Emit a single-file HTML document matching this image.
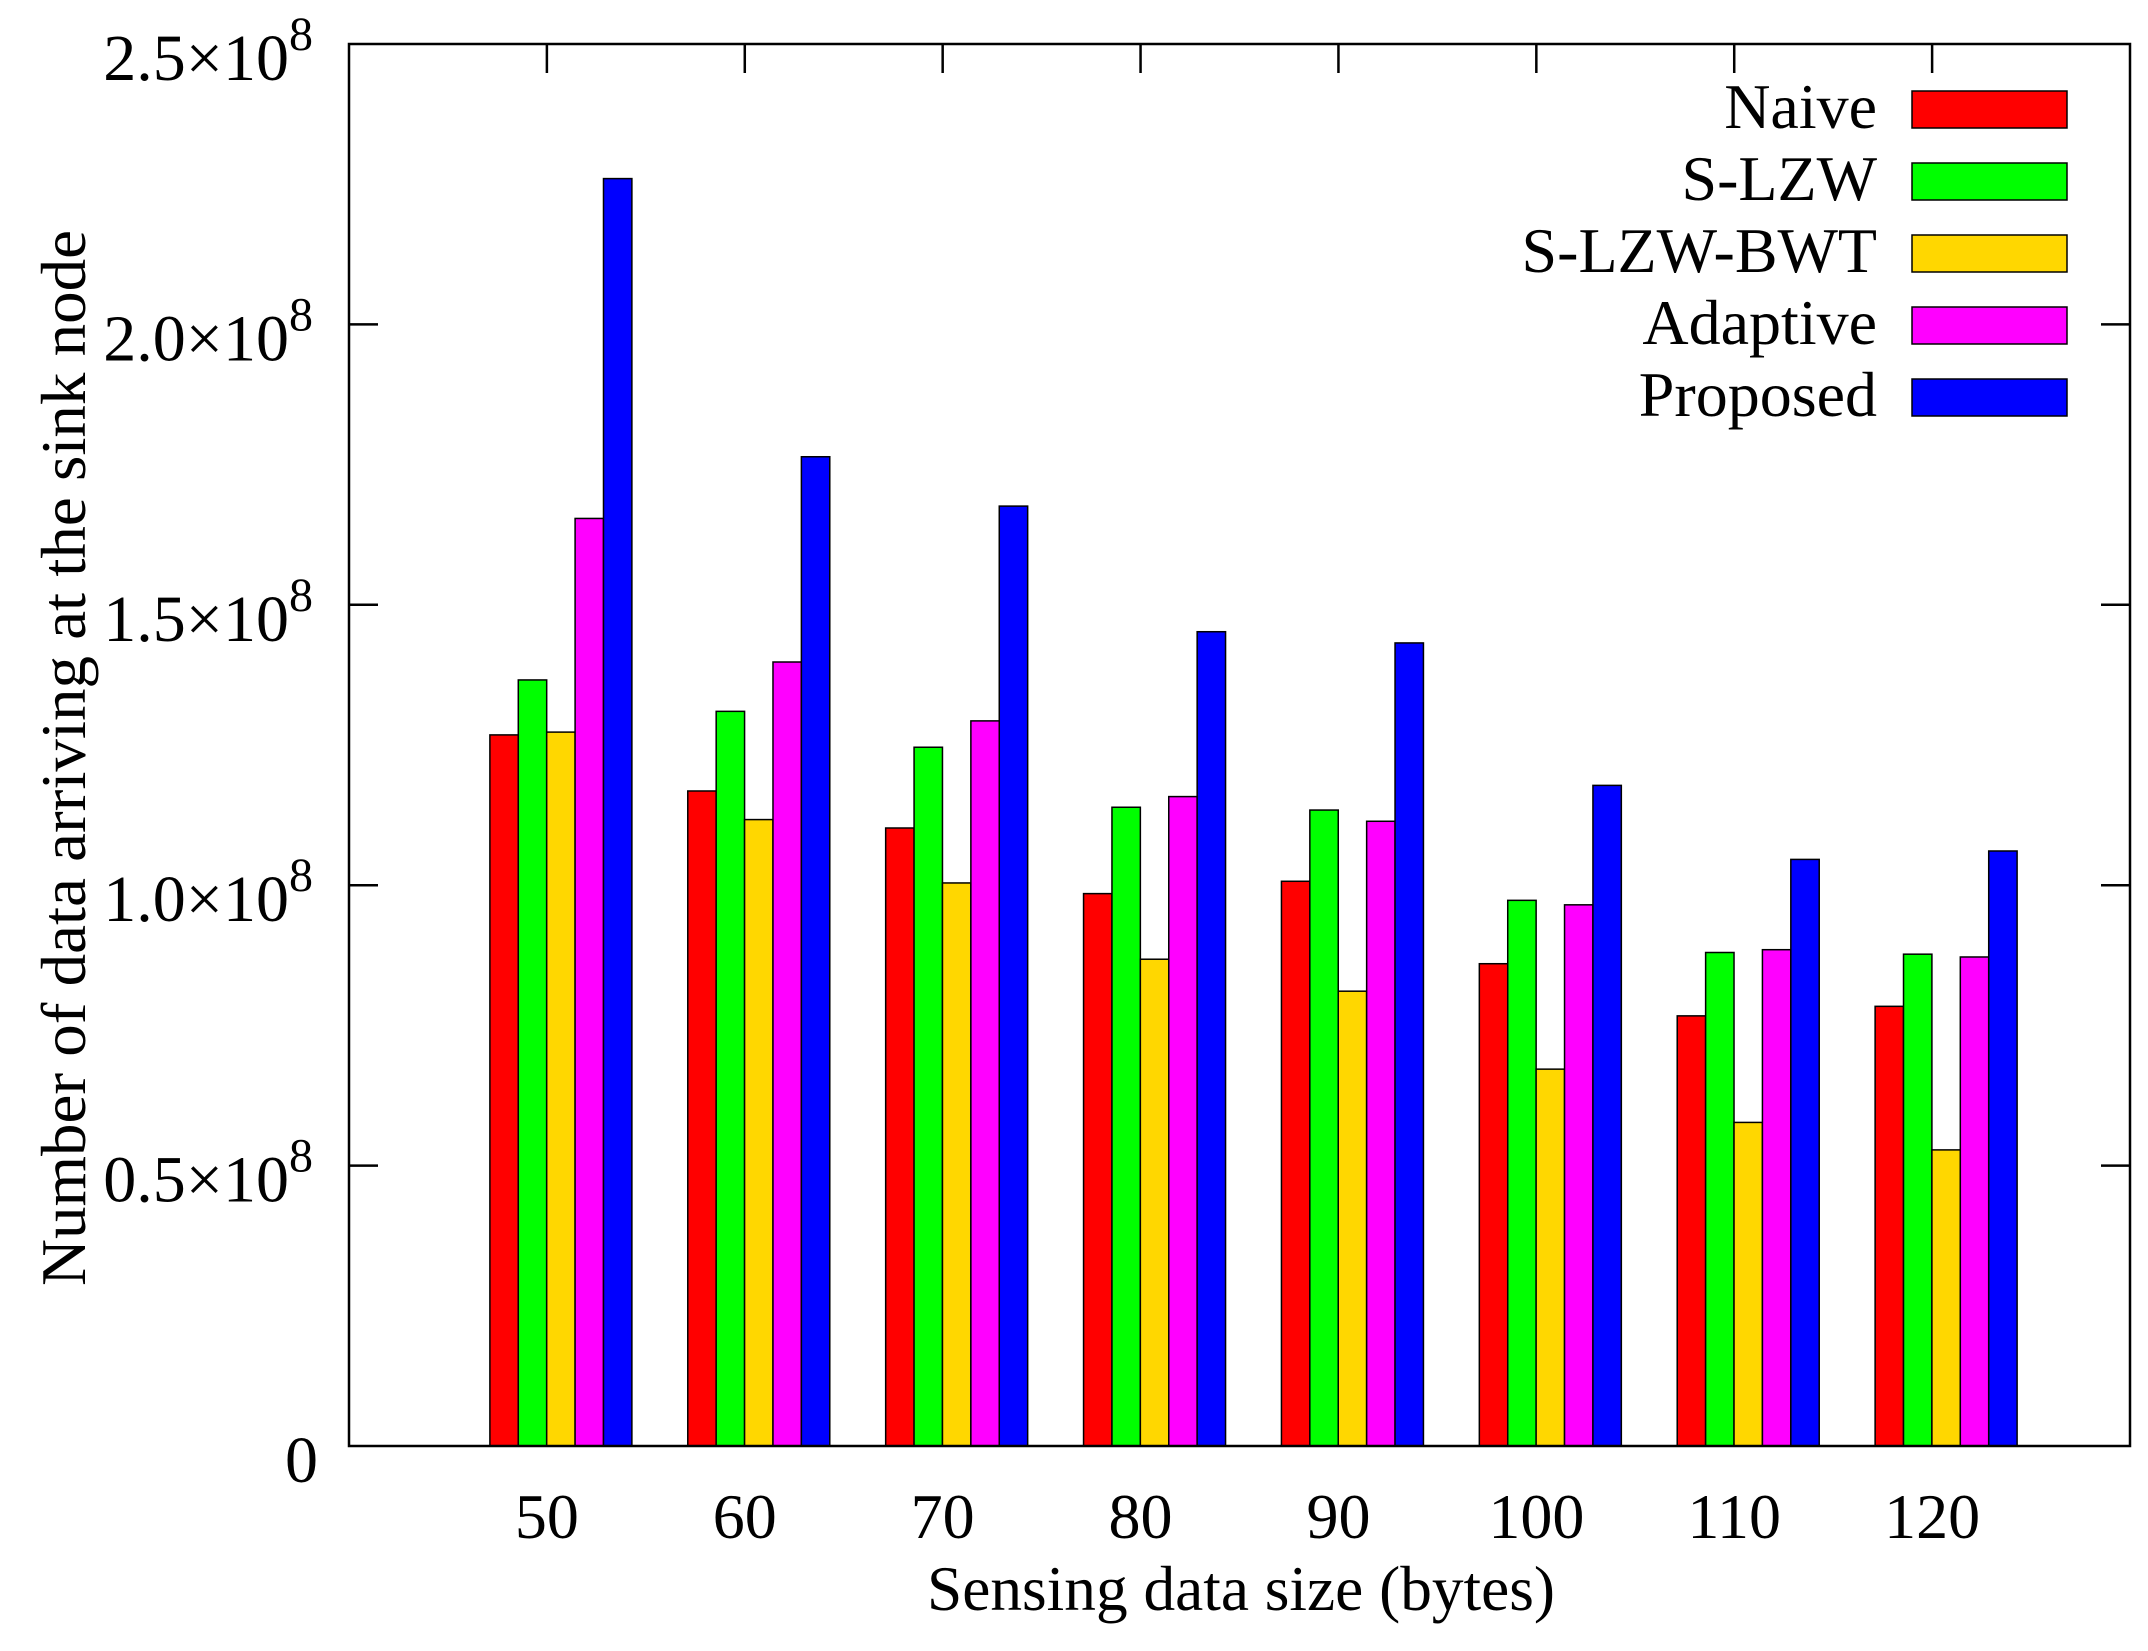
<!DOCTYPE html>
<html><head><meta charset="utf-8"><style>
html,body{margin:0;padding:0;background:#fff;}
svg{display:block;}
text{font-family:"Liberation Serif",serif;fill:#000;}
</style></head><body>
<svg id="chart" width="2148" height="1651" viewBox="0 0 2148 1651">
<g id="bars"></g>
<g id="axes"></g>
<g id="legend"></g>
</svg>
<script>
const categories = ["50","60","70","80","90","100","110","120"];
const seriesNames = ["Naive","S-LZW","S-LZW-BWT","Adaptive","Proposed"];
const naive    = [1.268,1.168,1.102,0.985,1.007,0.860,0.767,0.784];
const slzw     = [1.366,1.310,1.246,1.139,1.134,0.973,0.880,0.877];
const slzwbwt  = [1.273,1.117,1.004,0.868,0.811,0.672,0.577,0.528];
const adaptive = [1.654,1.398,1.293,1.158,1.114,0.965,0.885,0.872];
const proposed = [2.260,1.764,1.676,1.452,1.432,1.178,1.046,1.061];
const yTicks = [0,0.5,1.0,1.5,2.0,2.5];
const yTickLabels = ["0","0.5×10","1.0×10","1.5×10","2.0×10","2.5×10"];
const colors = ["#ff0000","#00ff00","#ffd700","#ff00ff","#0000ff"];
const series = [naive,slzw,slzwbwt,adaptive,proposed];

const NS="http://www.w3.org/2000/svg";
const L=349,R=2130,T=44,B=1446;
const yMax=2.5;
function yScale(v){return B-(v/yMax)*(B-T);}
function xCenter(i){return L+(i+1)*(R-L)/(categories.length+1);}
const barW=28.4, barOffset=14;
function mk(tag,attrs,parent){const e=document.createElementNS(NS,tag);for(const k in attrs)e.setAttribute(k,attrs[k]);parent.appendChild(e);return e;}
const gb=document.getElementById('bars'),ga=document.getElementById('axes'),gl=document.getElementById('legend');

series.forEach((s,si)=>{
  s.forEach((v,ci)=>{
    const x=xCenter(ci)+barOffset-2.5*barW+si*barW;
    const y=yScale(v);
    const r=mk('rect',{x:x,y:y,width:barW,height:B-y,fill:colors[si],stroke:'#000','stroke-width':1.5},gb);
    
    
  });
});

const fr=mk('rect',{x:L,y:T,width:R-L,height:B-T,fill:'none',stroke:'#000','stroke-width':2.5},ga);



yTicks.forEach((v,i)=>{
  const y=yScale(v);
  if(i>0&&i<yTicks.length-1){
    mk('line',{x1:L,y1:y,x2:L+29,y2:y,stroke:'#000','stroke-width':2.5},ga);
    mk('line',{x1:R,y1:y,x2:R-29,y2:y,stroke:'#000','stroke-width':2.5},ga);
  }
  const t=mk('text',{x:i===0?318:313,y:y+36,'font-size':66,'text-anchor':'end'},ga);
  
  
  if(i===0){t.textContent='0';}
  else{
    t.textContent=yTickLabels[i];
    const sp=document.createElementNS(NS,'tspan');
    sp.setAttribute('dy',-30);sp.setAttribute('font-size',48);sp.textContent='8';t.appendChild(sp);
  }
});

categories.forEach((c,i)=>{
  const x=xCenter(i);
  mk('line',{x1:x,y1:T,x2:x,y2:T+29,stroke:'#000','stroke-width':2.5},ga);
  const t=mk('text',{x:x,y:1538,'font-size':64,'text-anchor':'middle'},ga);
  
  
  t.textContent=c;
});

const xt=mk('text',{x:1241,y:1610,'font-size':64,'text-anchor':'middle',textLength:628,lengthAdjust:'spacingAndGlyphs'},ga);


xt.textContent='Sensing data size (bytes)';
const yt=mk('text',{x:0,y:0,'font-size':64,'text-anchor':'middle',textLength:1056,lengthAdjust:'spacingAndGlyphs',transform:'translate(85,758) rotate(-90)'},ga);


yt.textContent='Number of data arriving at the sink node';

seriesNames.forEach((n,i)=>{
  const y=91+i*72;
  const g=mk('g',{},gl);
  
  
  mk('rect',{x:1912,y:y,width:155,height:37,fill:colors[i],stroke:'#000','stroke-width':1.5},g);
  const t=mk('text',{x:1877,y:y+37,'font-size':64,'text-anchor':'end'},g);
  t.textContent=n;
});
</script>
</body></html>
